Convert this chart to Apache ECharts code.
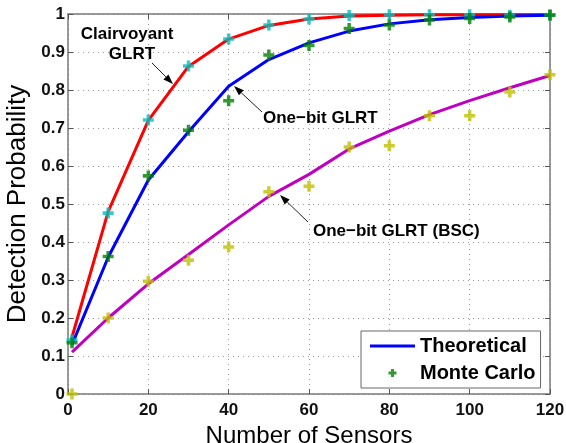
<!DOCTYPE html>
<html>
<head>
<meta charset="utf-8">
<script src="https://cdn.jsdelivr.net/npm/echarts@6/dist/echarts.min.js"></script>
<style>
  html, body { margin: 0; padding: 0; background: #fff; }
  #chart { width: 566px; height: 443px; }
</style>
</head>
<body>
<div id="chart"></div>
<script>
// x positions (number of sensors)
const sensors = [1, 10, 20, 30, 40, 50, 60, 70, 80, 90, 100, 110, 120]

// theoretical curves
const clairTheory = [0.15, 0.48, 0.72, 0.862, 0.934, 0.97, 0.987, 0.995, 0.997, 0.998, 0.998, 0.998, 0.998]
const oneBitTheory = [0.13, 0.36, 0.563, 0.69, 0.81, 0.88, 0.924, 0.955, 0.974, 0.985, 0.991, 0.995, 0.997]
const bscTheory = [0.11, 0.2, 0.29, 0.367, 0.445, 0.52, 0.578, 0.645, 0.692, 0.735, 0.772, 0.806, 0.838]

// monte carlo points
const clairMC = [0.142, 0.476, 0.721, 0.863, 0.934, 0.971, 0.987, 0.996, 0.998, 0.998, 0.998, 0.997, 0.998]
const oneBitMC = [0.135, 0.362, 0.574, 0.694, 0.772, 0.892, 0.917, 0.962, 0.971, 0.984, 0.988, 0.992, 0.997]
const bscMC = [0.0, 0.2, 0.297, 0.352, 0.387, 0.532, 0.547, 0.65, 0.653, 0.732, 0.732, 0.795, 0.84]

const xTicks = { min: 0, max: 120, interval: 20 }
const yTicks = { min: 0, max: 1, interval: 0.1 }

const font = '"Liberation Sans", Arial, Helvetica, sans-serif'
// thick "+" marker
const plusPath = 'path://M3.4,0H6.6V3.4H10V6.6H6.6V10H3.4V6.6H0V3.4H3.4Z'
// legend icons drawn in a 45x14 box (tiny corner dots keep the box size)
const legendBox = 'M0,0h0.01v0.01h-0.01Z M45,14h0.01v0.01h-0.01Z '
const legendLine = 'path://' + legendBox + 'M0,5.5H45V8.5H0Z'
const legendPlus = 'path://' + legendBox + 'M21,3H24V5.5H26.5V8.5H24V11H21V8.5H18.5V5.5H21Z'

const pairs = (ys) => sensors.map((x, i) => [x, ys[i]])

const lineSeries = (name, color, ys) => ({
  name,
  type: 'line',
  data: pairs(ys),
  symbol: 'none',
  clip: false,
  lineStyle: { color, width: 3 },
  itemStyle: { color },
  z: 2
})

const markSeries = (name, color, ys) => ({
  name,
  type: 'scatter',
  data: pairs(ys),
  symbol: plusPath,
  symbolSize: 11,
  clip: false,
  itemStyle: { color },
  z: 3
})

// arrow from (x1,y1) to head at (x2,y2)
const arrow = (x1, y1, x2, y2) => {
  const dx = x2 - x1, dy = y2 - y1
  const len = Math.sqrt(dx * dx + dy * dy)
  const ux = dx / len, uy = dy / len
  const hl = 10, hw = 3.5
  const bx = x2 - ux * hl, by = y2 - uy * hl
  return [
    { type: 'line', shape: { x1, y1, x2: bx, y2: by }, style: { stroke: '#222', lineWidth: 1 }, z: 10 },
    {
      type: 'polygon',
      shape: { points: [[x2, y2], [bx - uy * hw, by + ux * hw], [bx + uy * hw, by - ux * hw]] },
      style: { fill: '#000' },
      z: 10
    }
  ]
}

const label = (text, x, y, align) => ({
  type: 'text',
  z: 10,
  style: { text, x, y, align, verticalAlign: 'middle', font: 'bold 17px ' + font, fill: '#000' }
})

const axisCommon = {
  axisLine: { show: true, onZero: false, lineStyle: { color: '#7a7a7a', width: 1.5 } },
  axisTick: { show: true, inside: true, length: 5, lineStyle: { color: '#555' } }
}

const option = {
  animation: false,
  backgroundColor: '#fff',
  grid: { left: 68, right: 16, top: 14, bottom: 49, outerBoundsMode: 'none', containLabel: false },
  xAxis: [
    {
      type: 'value', ...xTicks, position: 'bottom', ...axisCommon,
      name: 'Number of Sensors', nameLocation: 'middle', nameGap: 26,
      nameTextStyle: { fontSize: 24, fontFamily: font, color: '#000' },
      axisLabel: { fontSize: 17, fontWeight: 'bold', fontFamily: font, color: '#111', margin: 8 },
      splitLine: { show: true, lineStyle: { type: [1, 4], color: '#999' } }
    },
    { type: 'value', ...xTicks, position: 'top', ...axisCommon, axisLabel: { show: false }, splitLine: { show: false } }
  ],
  yAxis: [
    {
      type: 'value', ...yTicks, position: 'left', ...axisCommon,
      name: 'Detection Probability', nameLocation: 'middle', nameGap: 33,
      nameTextStyle: { fontSize: 26, fontFamily: font, color: '#000' },
      axisLabel: { fontSize: 17, fontWeight: 'bold', fontFamily: font, color: '#111', margin: 3 },
      splitLine: { show: true, lineStyle: { type: [1, 4], color: '#999' } }
    },
    { type: 'value', ...yTicks, position: 'right', ...axisCommon, axisLabel: { show: false }, splitLine: { show: false } }
  ],
  legend: {
    orient: 'vertical',
    left: 361,
    top: 331,
    padding: [5, 5, 5, 9],
    itemGap: 7,
    itemWidth: 45,
    itemHeight: 14,
    backgroundColor: '#fff',
    borderColor: '#666',
    borderWidth: 1,
    textStyle: { fontSize: 20, fontWeight: 'bold', fontFamily: font, color: '#000' },
    data: [{ name: 'Theoretical', icon: legendLine }, { name: 'Monte Carlo', icon: legendPlus }]
  },
  series: [
    lineSeries('Clairvoyant GLRT', '#ff0000', clairTheory),
    lineSeries('Theoretical', '#0000ff', oneBitTheory),
    lineSeries('One-bit GLRT (BSC)', '#bf00bf', bscTheory),
    markSeries('Clairvoyant MC', '#00bfbf', clairMC),
    markSeries('Monte Carlo', '#008000', oneBitMC),
    markSeries('BSC MC', '#bfbf00', bscMC)
  ],
  graphic: [
    label('Clairvoyant', 127, 34, 'center'),
    label('GLRT', 132, 54, 'center'),
    ...arrow(152, 63, 173, 84),
    label('One\u2212bit GLRT', 263, 118, 'left'),
    ...arrow(262, 112, 234, 86),
    label('One\u2212bit GLRT (BSC)', 313, 231, 'left'),
    ...arrow(308, 222, 280, 195)
  ]
}

const chart = echarts.init(document.getElementById('chart'))
chart.setOption(option)
window.addEventListener('resize', () => chart.resize())
</script>
</body>
</html>
